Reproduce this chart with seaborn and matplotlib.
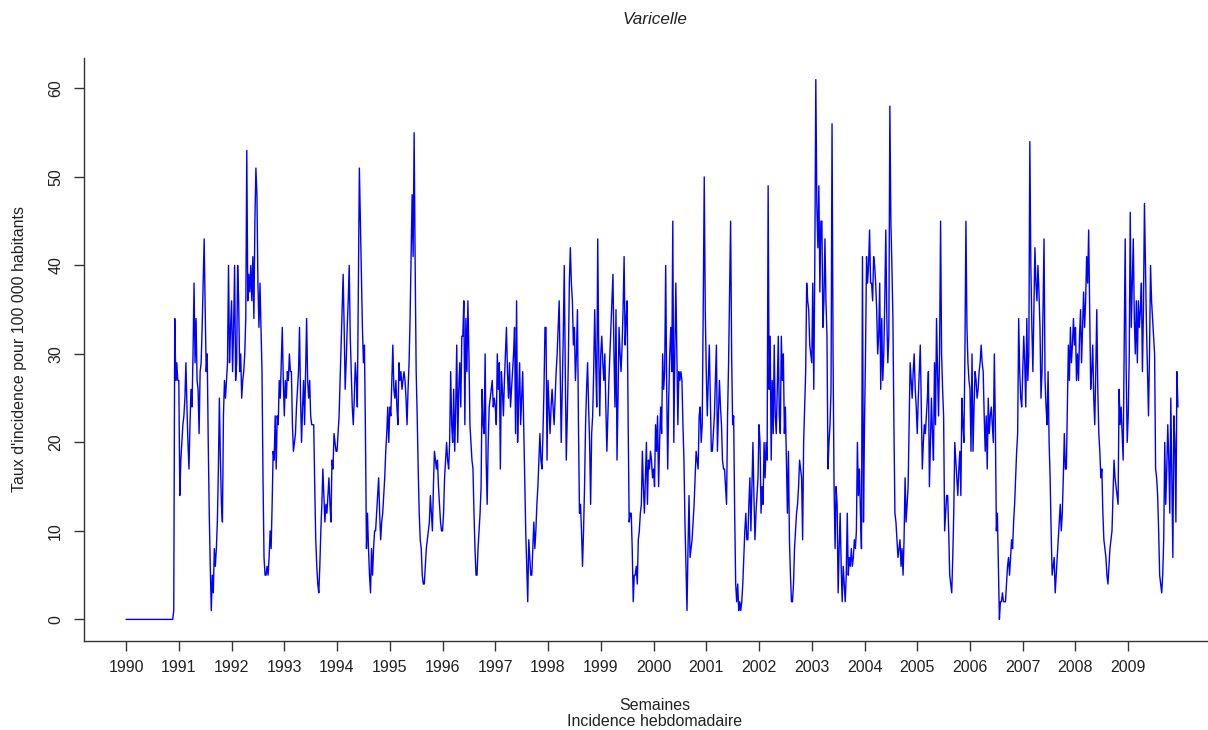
import numpy as np
import pandas as pd
import matplotlib
matplotlib.use("Agg")
import matplotlib.pyplot as plt
import seaborn as sns
from matplotlib import font_manager

# ---------------- data (weekly incidence per 100 000) ----------------
y1990 = [0, 0, 0, 0, 0, 0, 0, 0, 0, 0, 0, 0, 0, 0, 0, 0, 0, 0, 0, 0,
         0, 0, 0, 0, 0, 0, 0, 0, 0, 0, 0, 0, 0, 0, 0, 0, 0, 0, 0, 0,
         0, 0, 0, 0, 0, 0, 0, 1, 34, 27, 29, 27]
y1991 = [27, 14, 18, 20, 22, 23, 25, 29, 24, 20, 17, 22, 26, 24, 30, 38, 29, 34, 27, 26,
         21, 28, 29, 33, 38, 43, 35, 28, 30, 20, 12, 6, 1, 5, 3, 8, 6, 8, 11, 17,
         25, 18, 13, 11, 23, 27, 25, 27, 29, 40, 29, 33]
y1992 = [36, 28, 33, 40, 27, 29, 40, 36, 28, 30, 25, 27, 28, 30, 34, 53, 36, 39, 37, 40,
         36, 41, 34, 45, 51, 48, 38, 33, 38, 33, 28, 16, 7, 5, 5, 6, 5, 7, 10, 8,
         13, 19, 18, 23, 17, 23, 22, 27, 25, 29, 33, 27]
y1993 = [23, 27, 25, 28, 27, 30, 28, 28, 22, 19, 20, 21, 24, 26, 28, 33, 25, 20, 24, 27,
         22, 28, 34, 27, 25, 27, 23, 22, 22, 22, 15, 9, 6, 4, 3, 6, 10, 13, 17, 14,
         11, 13, 12, 14, 16, 13, 11, 18, 17, 21, 20, 19]
y1994 = [19, 21, 23, 27, 31, 35, 39, 33, 26, 29, 33, 36, 40, 32, 28, 24, 22, 25, 29, 27,
         24, 38, 51, 45, 39, 33, 29, 31, 21, 8, 12, 8, 5, 3, 8, 5, 8, 10, 10, 12,
         14, 16, 12, 9, 11, 12, 14, 16, 19, 21, 24, 20]
y1995 = [24, 23, 27, 31, 26, 25, 27, 24, 22, 29, 27, 28, 26, 27, 28, 27, 25, 22, 26, 29,
         34, 41, 48, 41, 55, 40, 28, 23, 17, 12, 9, 8, 5, 4, 4, 6, 8, 9, 10, 11,
         14, 12, 10, 15, 19, 18, 17, 18, 15, 13, 11, 10]
y1996 = [10, 12, 16, 18, 20, 18, 17, 20, 28, 22, 20, 26, 19, 24, 31, 20, 26, 29, 24, 32,
         32, 36, 22, 34, 28, 36, 30, 22, 20, 18, 17, 12, 8, 5, 5, 8, 10, 12, 15, 26,
         22, 21, 30, 18, 13, 20, 24, 25, 26, 27, 24, 25]
y1997 = [24, 22, 30, 26, 29, 17, 28, 26, 23, 27, 30, 33, 28, 25, 29, 24, 26, 28, 30, 33,
         21, 36, 20, 25, 29, 22, 25, 28, 22, 16, 10, 6, 2, 9, 7, 5, 5, 8, 11, 8,
         10, 13, 15, 18, 21, 18, 17, 21, 26, 33, 33, 18]
y1998 = [27, 24, 21, 24, 26, 24, 22, 25, 28, 30, 33, 36, 28, 20, 26, 32, 40, 28, 18, 23,
         29, 38, 42, 38, 36, 31, 33, 27, 30, 35, 22, 12, 13, 10, 6, 10, 15, 22, 26, 29,
         24, 20, 13, 21, 23, 28, 35, 29, 24, 43, 30, 23]
y1999 = [30, 32, 29, 27, 30, 24, 19, 23, 27, 30, 33, 36, 39, 30, 24, 35, 18, 25, 33, 30,
         28, 31, 35, 41, 31, 34, 36, 22, 11, 12, 12, 8, 2, 5, 5, 6, 4, 9, 10, 12,
         13, 19, 15, 12, 16, 20, 13, 18, 17, 19, 18, 16]
y2000 = [17, 15, 22, 19, 23, 15, 20, 24, 21, 30, 26, 28, 40, 26, 17, 25, 30, 33, 28, 45,
         20, 30, 38, 30, 22, 28, 27, 28, 27, 22, 18, 11, 6, 1, 8, 14, 7, 8, 9, 11,
         13, 16, 19, 18, 17, 23, 24, 20, 22, 35, 50, 35]
y2001 = [28, 23, 27, 31, 25, 19, 19, 21, 23, 27, 31, 19, 23, 27, 24, 22, 18, 17, 17, 15,
         13, 23, 29, 37, 45, 30, 22, 23, 12, 4, 2, 4, 1, 2, 1, 2, 4, 7, 10, 12,
         9, 9, 13, 16, 10, 15, 20, 14, 9, 12, 14, 16]
y2002 = [22, 20, 12, 15, 13, 20, 16, 20, 18, 49, 26, 32, 18, 27, 21, 31, 23, 21, 26, 32,
         23, 21, 32, 27, 30, 21, 24, 18, 12, 19, 9, 5, 2, 2, 4, 8, 10, 12, 13, 15,
         18, 17, 16, 9, 20, 24, 28, 38, 36, 35, 31, 30]
y2003 = [29, 38, 26, 40, 61, 47, 42, 49, 37, 45, 45, 33, 36, 43, 36, 32, 17, 20, 22, 26,
         56, 30, 15, 8, 15, 13, 3, 8, 12, 6, 2, 6, 4, 2, 5, 12, 5, 7, 6, 8,
         6, 7, 9, 8, 10, 20, 14, 17, 12, 8, 41, 11]
y2004 = [22, 30, 41, 38, 40, 44, 38, 38, 36, 41, 40, 38, 35, 30, 32, 38, 26, 34, 27, 30,
         36, 44, 34, 29, 32, 58, 45, 40, 34, 22, 12, 11, 9, 7, 8, 9, 6, 8, 5, 9,
         16, 11, 13, 15, 22, 29, 27, 25, 28, 30, 26, 24]
y2005 = [21, 25, 28, 31, 24, 17, 20, 22, 21, 23, 25, 28, 15, 20, 25, 21, 18, 29, 22, 34,
         28, 23, 30, 45, 30, 26, 23, 10, 12, 14, 14, 10, 5, 4, 3, 7, 12, 20, 18, 16,
         14, 17, 19, 14, 25, 22, 20, 30, 45, 33, 29, 27]
y2006 = [26, 19, 30, 19, 24, 28, 27, 25, 26, 28, 29, 31, 29, 28, 23, 19, 23, 17, 25, 21,
         23, 24, 22, 20, 30, 22, 10, 12, 6, 0, 2, 2, 3, 2, 2, 2, 4, 6, 7, 5,
         7, 9, 8, 11, 13, 16, 19, 21, 34, 28, 25, 24]
y2007 = [28, 32, 29, 24, 34, 27, 30, 54, 40, 33, 28, 35, 42, 38, 36, 40, 37, 33, 25, 28,
         35, 43, 27, 24, 22, 28, 20, 16, 10, 5, 6, 7, 3, 5, 7, 9, 11, 13, 10, 12,
         16, 21, 17, 17, 24, 31, 27, 33, 29, 31, 34, 31]
y2008 = [33, 27, 30, 27, 32, 35, 29, 33, 37, 33, 36, 41, 38, 44, 35, 26, 28, 31, 25, 22,
         28, 35, 26, 21, 19, 16, 17, 12, 9, 8, 7, 5, 4, 6, 8, 9, 10, 14, 18, 16,
         15, 14, 13, 26, 22, 24, 21, 18, 30, 43, 28, 20]
y2009 = [23, 30, 46, 33, 38, 43, 34, 30, 36, 29, 36, 33, 35, 38, 28, 35, 47, 40, 33, 28,
         23, 30, 40, 36, 34, 32, 30, 17, 16, 14, 10, 5, 4, 3, 5, 9, 20, 13, 17, 22,
         18, 12, 25, 16, 7, 23, 20, 11, 28, 24]

year_lists = [y1990, y1991, y1992, y1993, y1994, y1995, y1996, y1997, y1998, y1999,
              y2000, y2001, y2002, y2003, y2004, y2005, y2006, y2007, y2008, y2009]
year_labels = [str(y) for y in range(1990, 2010)]
WEEKS_PER_YEAR = 52

values = [v for lst in year_lists for v in lst]
weeks = np.arange(len(values))
df = pd.DataFrame({"semaine": weeks, "taux": values})

# ---------------- style ----------------
sns.set_style("ticks")
try:
    font_manager.findfont(font_manager.FontProperties(family="Liberation Sans Narrow"),
                          fallback_to_default=False)
    FAM = ["Liberation Sans Narrow", "Liberation Sans", "DejaVu Sans"]
    fs = 13.5
except Exception:
    FAM = ["Liberation Sans", "DejaVu Sans"]
    fs = 11.5
plt.rcParams["font.family"] = FAM

W, H = 1208, 730
fig = plt.figure(figsize=(W / 100, H / 100), dpi=100)
ax_l, ax_r, ax_t, ax_b = 84, 1220, 58, 641
ax = fig.add_axes([ax_l / W, (H - ax_b) / H, (ax_r - ax_l) / W, (ax_b - ax_t) / H])

sns.lineplot(data=df, x="semaine", y="taux", ax=ax, color="#0000FF", linewidth=1.0)

n = len(values)
ext = 0.04 * (n - 1)
ax.set_xlim(-ext, (n - 1) + ext)
ax.set_ylim(-0.04 * 61, 61 + 0.04 * 61)

ax.set_xticks([i * WEEKS_PER_YEAR for i in range(len(year_labels))])
ax.set_xticklabels(year_labels)
ax.set_yticks([0, 10, 20, 30, 40, 50, 60])
ax.set_yticklabels(["0", "10", "20", "30", "40", "50", "60"], rotation=90, va="center")

for s in ["top", "right"]:
    ax.spines[s].set_visible(False)
for s in ["left", "bottom"]:
    ax.spines[s].set_color("#333333")
    ax.spines[s].set_linewidth(1.0)
ax.tick_params(axis="both", direction="out", length=7, width=1.0, color="#333333",
               labelcolor="#222222", labelsize=fs)
ax.tick_params(axis="x", pad=7)
ax.tick_params(axis="y", pad=8)
ax.set_xlabel("")
ax.set_ylabel("")
ax.grid(False)

fig.text(655 / W, 1 - 20 / H, "Varicelle", ha="center", va="center",
         fontsize=fs + 0.8, style="italic", color="#222222")
fig.text(655 / W, 1 - 706 / H, "Semaines", ha="center", va="center",
         fontsize=fs, color="#222222")
fig.text(655 / W, 1 - 721 / H, "Incidence hebdomadaire", ha="center", va="center",
         fontsize=fs, color="#222222")
fig.text(20 / W, 1 - 349 / H, "Taux d'incidence pour 100 000 habitants", ha="center",
         va="center", rotation=90, fontsize=fs, color="#222222")

fig.savefig("out.png", dpi=100, facecolor="white")
